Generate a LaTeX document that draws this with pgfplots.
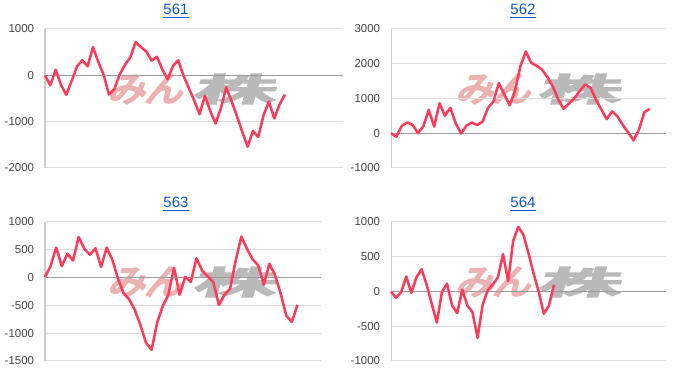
\documentclass[border=0pt]{standalone}
\usepackage{graphicx}
\usepackage{pgfplots}
\usepackage{pgfplotstable}
\pgfplotsset{compat=1.18}
\usepackage{fontspec}
\setmainfont{Liberation Sans}
\newfontfamily\cjk[FakeBold=7]{Noto Sans CJK JP}
\definecolor{linec}{RGB}{250,60,90}
\definecolor{gridc}{RGB}{222,222,222}
\definecolor{basec}{RGB}{155,155,155}
\definecolor{axisc}{RGB}{205,205,205}
\definecolor{tickc}{RGB}{68,68,68}
\definecolor{titlec}{RGB}{17,85,204}
\definecolor{wmpink}{RGB}{236,178,178}
\definecolor{wmgray}{RGB}{185,185,185}

\pgfplotstableread{
v
0
-215
120
-205
-420
-120
190
325
195
610
290
12
-415
-300
15
228
388
715
610
515
318
400
130
-85
200
325
-15
-280
-545
-840
-440
-770
-1040
-710
-258
-560
-880
-1220
-1540
-1200
-1330
-860
-568
-930
-630
-415
}\dataA

\pgfplotstableread{
v
0
-100
215
310
240
5
200
670
190
860
505
730
285
-5
220
310
235
340
730
915
1445
1115
805
1220
1930
2350
2025
1945
1830
1620
1350
980
705
850
1010
1215
1405
1310
970
690
405
630
485
235
20
-205
115
610
700
}\dataB

\pgfplotstableread{
v
10
210
540
205
430
308
730
520
412
528
192
540
322
-15
-280
-390
-580
-850
-1170
-1300
-810
-510
-305
178
-310
15
-78
348
128
22
-82
-492
-310
-198
308
738
518
328
222
-128
248
45
-280
-682
-798
-492
}\dataC

\pgfplotstableread{
v
0
-92
-8
215
-20
205
320
100
-178
-448
-8
112
-202
-310
25
-202
-298
-668
-190
18
100
205
538
150
730
930
815
550
260
0
-320
-205
95
}\dataD

\pgfplotsset{panel/.style={
  scale only axis,
  height=104.25pt,
  axis line style={draw=none},
  xtick=\empty,
  ymajorgrids,
  major grid style={color=gridc, line width=0.75pt},
  major tick length=0pt,
  yticklabel style={font=\fontsize{8.6}{10}\selectfont, text=tickc, inner xsep=0pt, xshift=-8pt},
  extra y ticks={0},
  extra y tick labels={},
  extra y tick style={grid=major, major grid style={color=basec, line width=0.75pt}},
  clip=false,
}}
\tikzset{wm/.style={inner sep=0pt, xslant=0.3}}

\begin{document}
\begin{tikzpicture}
\useasboundingbox (0,0) rectangle (525pt,288pt);

% watermarks
\foreach \px/\gx/\yy in {111/177.75/221.25, 372/436.5/221.25, 111/177.75/76.5, 372/436.5/76.5}{
  \node[wm, text=wmpink] at (\px pt,\yy pt) {\resizebox{56pt}{20pt}{\cjk みん}};
  \node[wm, text=wmgray] at (\gx pt,\yy pt) {\resizebox{61pt}{20pt}{\cjk 株}};
}

% 561
\begin{axis}[panel, at={(33.75pt,162pt)}, anchor=south west, width=223.5pt,
  xmin=0, xmax=55.9, ymin=-2000, ymax=1000,
  ytick={-2000,-1000,0,1000}, yticklabels={-2000,-1000,0,1000}]
\draw[axisc, line width=0.75pt] (rel axis cs:0,0) -- (rel axis cs:0,1);
\addplot[linec, line width=1.9pt, no marks, line join=round] table[x expr=\coordindex, y=v] {\dataA};
\end{axis}

% 562
\begin{axis}[panel, at={(293.25pt,162pt)}, anchor=south west, width=206.25pt,
  xmin=0, xmax=51.0, ymin=-1000, ymax=3000,
  ytick={-1000,0,1000,2000,3000}, yticklabels={-1000,0,1000,2000,3000}]
\draw[axisc, line width=0.75pt] (rel axis cs:0,0) -- (rel axis cs:0,1);
\addplot[linec, line width=1.9pt, no marks, line join=round] table[x expr=\coordindex, y=v] {\dataB};
\end{axis}

% 563
\begin{axis}[panel, at={(33.75pt,17.25pt)}, anchor=south west, width=207pt,
  xmin=0, xmax=49.2, ymin=-1500, ymax=1000,
  ytick={-1500,-1000,-500,0,500,1000}, yticklabels={-1500,-1000,-500,0,500,1000}]
\draw[axisc, line width=0.75pt] (rel axis cs:0,0) -- (rel axis cs:0,1);
\addplot[linec, line width=1.9pt, no marks, line join=round] table[x expr=\coordindex, y=v] {\dataC};
\end{axis}

% 564
\begin{axis}[panel, at={(293.25pt,17.25pt)}, anchor=south west, width=206.25pt,
  xmin=0, xmax=54.0, ymin=-1000, ymax=1000,
  ytick={-1000,-500,0,500,1000}, yticklabels={-1000,-500,0,500,1000}]
\draw[axisc, line width=0.75pt] (rel axis cs:0,0) -- (rel axis cs:0,1);
\addplot[linec, line width=1.9pt, no marks, line join=round] table[x expr=\coordindex, y=v] {\dataD};
\end{axis}

% titles
\node[text=titlec, font=\fontsize{11.25}{13}\selectfont] at (132pt,279.75pt) {\underline{561}};
\node[text=titlec, font=\fontsize{11.25}{13}\selectfont] at (392.25pt,279.75pt) {\underline{562}};
\node[text=titlec, font=\fontsize{11.25}{13}\selectfont] at (132pt,135pt) {\underline{563}};
\node[text=titlec, font=\fontsize{11.25}{13}\selectfont] at (392.25pt,135pt) {\underline{564}};
\end{tikzpicture}
\end{document}
